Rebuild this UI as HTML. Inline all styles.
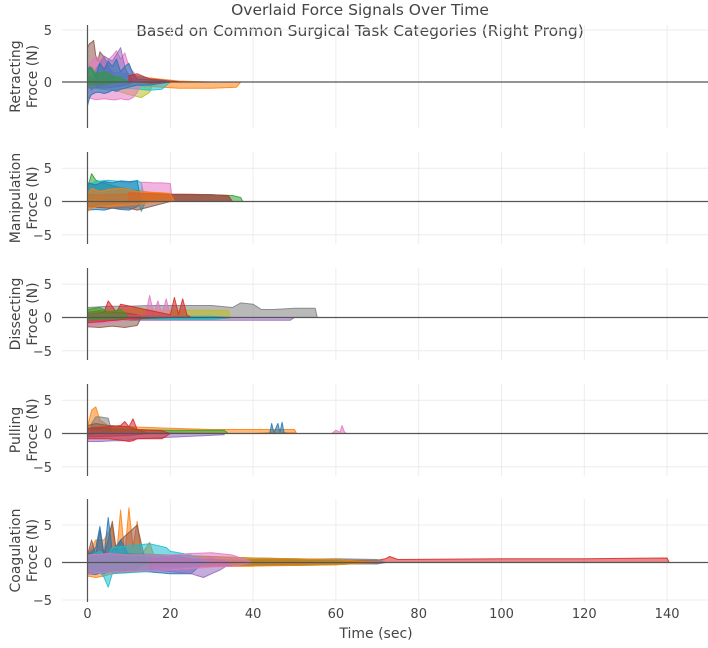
<!DOCTYPE html>
<html><head><meta charset="utf-8"><style>
body{margin:0;background:#fff;}
svg text{font-family:"DejaVu Sans","Liberation Sans",sans-serif;fill:#444;}
</style></head><body>
<svg id="chart" width="708" height="643" viewBox="0 0 708 643" xmlns="http://www.w3.org/2000/svg">
<text x="360" y="15" text-anchor="middle" font-size="15.5">Overlaid Force Signals Over Time</text>
<text x="360" y="36" text-anchor="middle" font-size="15.5">Based on Common Surgical Task Categories (Right Prong)</text>
<text x="376" y="638" text-anchor="middle" font-size="14">Time (sec)</text>
</svg>
<script>
const xTicks=[0,20,40,60,80,100,120,140];
const panelNames=["Retracting","Manipulation","Dissecting","Pulling","Coagulation"];
const yTicks=[[5,0],[5,0,-5],[5,0,-5],[5,0,-5],[5,0,-5]];
const C={blue:"#1f77b4",orange:"#ff7f0e",green:"#2ca02c",red:"#d62728",purple:"#9467bd",brown:"#8c564b",pink:"#e377c2",grey:"#7f7f7f",olive:"#bcbd22",cyan:"#17becf"};
// each band: color, times, upper, lower
const p1Bands=[
 ["orange",[0,10,22,30,36,37],[0.3,0.6,0.1,0,0,0],[-0.2,-0.3,-0.6,-0.6,-0.5,0]],
 ["olive",[0,5,10,13,15,16],[-0.1,-0.2,-0.3,-0.4,-0.6,0],[-0.6,-0.6,-1.2,-1.5,-1.0,0]],
 ["cyan",[0,5,10,15,18,20],[0.5,1,0.8,0.3,0.2,0],[-0.5,-0.8,-0.6,-0.8,-0.7,0]],
 ["brown",[0,0.5,1,1.5,2,2.5,3,4,5,6,7],[3.3,3.7,3.8,4.0,2.5,2.0,2.9,2.4,1.6,0.8,0],[0,-0.5,-0.8,-0.5,-0.5,-0.4,-0.3,-0.3,-0.2,-0.1,0]],
 ["pink",[0,2,4,6,7,8,9,10,11,12,13],[1.5,2.5,1.8,2.5,3,2.2,2.8,1.5,1,0.5,0],[-1.5,-1.7,-1.6,-1.7,-1.7,-1.6,-1.7,-1.7,-1.5,-1.0,0]],
 ["purple",[2,4,6,8,9,10,11],[1.2,2.5,2.0,3.3,1.5,0.6,0],[-0.5,-0.6,-0.5,-0.4,-0.3,-0.2,0]],
 ["blue",[0,0.5,1,2,3,4,5,6,7,8,9,10,11,12,15,20],[1,1.5,1.2,0.6,1.8,1.2,2.0,1.5,2.2,1.0,1.5,1.8,0.8,0.3,0.2,0],[-2.3,-1.5,-1.2,-1,-1,-1.1,-1,-0.8,-0.9,-0.7,-0.6,-0.5,-0.4,-0.3,-0.3,0]],
 ["green",[0,1,2,4,6,8,10],[1.2,1.4,0.8,1,0.6,0.4,0],[-0.2,-0.3,-0.2,-0.2,-0.1,0,0]],
 ["red",[10,12,15,20,23],[0.6,0.8,0.3,0.1,0],[0,0,-0.1,0,0]]
];
const p2Bands=[
 ["green",[0,1,2,4,6,10,15,20,30,35,37,37.5],[2,4.2,3.2,2.8,2.4,1.8,1.4,1.1,1.0,0.9,0.6,0],[-0.5,-0.8,-0.6,-0.5,-0.3,-0.2,0,0,0,0,0,0]],
 ["cyan",[0,2,5,8,10,12,13,14],[2.5,3,3.2,3,2.8,3.2,2.8,0],[0.5,0.5,0.3,0.3,0.2,0.3,-1.5,0]],
 ["pink",[13,14,16,18,20,20.5],[2.9,2.9,2.8,2.8,2.7,0],[0.5,0.5,0.5,0.5,0.5,0]],
 ["blue",[0,2,4,6,8,10,12,13],[2.8,2.5,3,2.8,3.1,3.0,3.1,0],[-1.3,-1.2,-1.3,-1.0,-1.2,-1.3,-0.8,0]],
 ["red",[10,15,20,25,30,34,35],[1.3,1.2,1.1,1.1,1.0,0.9,0],[0,0,0,0,0,0,0]],
 ["brown",[0,5,10,12,20,30,34,35],[1,1,1.1,1,1.0,1.0,0.8,0],[-0.8,-1.0,-1.0,-1.3,0,0,0,0]],
 ["orange",[0,1,3,5,8,10,12,15,18,20,21],[1.2,2,1.5,1.8,2,1.8,1.5,1.4,1.3,1.2,0],[-1.5,-1.0,-0.6,-0.8,-0.6,-0.5,-0.4,-0.2,0,0,0]]
];
const p3Bands=[
 ["grey",[0,5,10,15,30,35,37,40,42,45,50,55,55.5],[1.5,1.7,1.7,1.8,1.8,1.5,2.2,2.0,1.2,1.2,1.4,1.4,0],[0,0,0,0,0,0,0,0,0,0,0,0,0]],
 ["olive",[0,5,10,20,30,34,34.5],[1.2,1.1,1.2,1.1,1.1,1.1,0],[-0.2,-0.2,-0.2,-0.2,-0.1,-0.1,0]],
 ["purple",[0,10,20,30,40,49,50],[0,0,0,0,0,0,0],[-0.5,-0.4,-0.4,-0.4,-0.4,-0.4,0]],
 ["cyan",[0,10,20,30,35],[0.3,0.3,0.2,0.2,0],[-0.3,-0.3,-0.3,-0.3,0]],
 ["brown",[0,3,6,9,12,13],[0.8,1,0.8,0.7,0.4,0],[-1.4,-1.5,-1.3,-1.5,-1.2,0]],
 ["pink",[0,14,15,16,17,18,19,20,21],[0.5,0.3,3.3,0.6,2.5,0.5,2.8,0.3,0],[-1.2,0,0,0,0,0,0,0,0]],
 ["red",[0,4,5,7,8,20,21,22,23,24,25],[0.5,0.8,2.5,0.8,2,0.4,3,0.5,2.8,0.4,0],[-0.8,-0.6,-0.5,-0.4,-0.3,0,0,0,0,0,0]],
 ["green",[0,3,5,8,10],[1.2,1.5,0.8,1.2,0],[-0.4,-0.3,-0.2,-0.2,0]]
];
const p4Bands=[
 ["orange",[0,1,2,3,5,10,20,30,40,45,50,50.5],[1,3.5,4,2,1.2,1,0.8,0.6,0.6,0.6,0.6,0],[-0.2,-0.2,0,0,0,0,0,0,0,0.2,0.1,0]],
 ["grey",[1,2,3,5,6],[1.5,2.5,2.5,2.3,0],[0,0,0,0,0]],
 ["brown",[0,2,5,10,15],[1.2,1.5,1.2,1,0],[-0.5,-0.5,-0.4,-0.3,0]],
 ["green",[0,10,20,30,33,34],[0.8,0.6,0.5,0.5,0.5,0],[0,0,0,0,0,0]],
 ["purple",[0,3,6,9,12,33],[0.3,0.3,0.2,0.2,0.1,0],[-1.2,-1.2,-1.1,-1.1,-0.8,-0.2]],
 ["red",[0,5,8,9,10,11,12,18,20],[0.8,1,1.2,1.8,1,2.2,0.6,0.4,0],[-0.8,-0.8,-1.0,-1.1,-1.2,-1.1,-0.8,-0.8,0]],
 ["blue",[40,44,44.5,45,46,46.5,47,47.5,48],[0,0,1.5,0.1,1.5,0.2,1.7,0.1,0],[0,0,0,0,0,0,0,0,0]],
 ["pink",[59,60,61,61.5,62,62.5],[0,0.5,0.2,1.2,0.3,0],[0,0,0,0,0,0]]
];
const p5Bands=[
 ["red",[0,10,20,40,60,70,72,73,75,100,120,140,140.5],[1,0.8,0.5,0.3,0.3,0.3,0.5,0.8,0.4,0.5,0.5,0.6,0],[-1.3,-1.3,-0.5,-0.3,-0.2,-0.1,0,0,0,0,0,0,0]],
 ["grey",[35,40,50,60,70,72],[0.3,0.4,0.4,0.5,0.4,0],[-0.2,-0.2,-0.2,-0.2,-0.2,0]],
 ["green",[0,10,20,30,40,50,60,70],[1.2,1.2,1,0.8,0.6,0.5,0.4,0],[-0.6,-0.5,-0.4,-0.5,-0.4,-0.4,-0.3,0]],
 ["orange",[0,2,4,6,7,8,9,10,11,12,13,15,16,20,40,60,70],[1,3,3,5,1,7,1,7.3,2,5.5,1,2.7,1,0.8,0.6,0.4,0],[-1.8,-2,-1.8,-1.5,-1.4,-1.3,-1.4,-1.3,-1.2,-1.2,-1,-0.9,-0.8,-0.6,-0.5,-0.3,0]],
 ["brown",[0,1,2,3,4,5,6,7,8,10,12,14],[1,3,1,4.3,1,3,5.5,1.5,3,4,5,0],[-1.5,-1.4,-1.3,-1.4,-1.3,-1.2,-1.2,-1.1,-1,-1,-0.8,0]],
 ["blue",[0,2,3,4,5,6,8,10,20,25,28],[1,2,4.8,1,6,1.5,3,1,1,0.5,0],[-1.5,-1.6,-1.4,-1.5,-1.3,-1.2,-1.2,-1.0,-1.5,-1.5,0]],
 ["cyan",[0,3,4,5,6,15,19,20,25,30],[0.8,1.5,1,1,2,2.5,2,1.5,1,0],[-1.2,-1.3,-2,-3.3,-1.5,-1.2,-1,-0.8,-0.6,0]],
 ["purple",[15,20,25,28,30,32,35],[0.5,0.6,0.5,0.4,0.5,0.3,0],[-1,-1.2,-1.5,-2.0,-1.5,-1,0]],
 ["pink",[0,5,10,15,20,25,30,35,40],[1,1.2,1,1,1,1.2,1.3,1,0],[-1.5,-1.3,-1.2,-1.1,-1,-0.8,-0.6,-0.5,0]]
];
const panels=[
 {name:panelNames[0],bands:p1Bands,top:25,bot:128,ymin:-4.42,ymax:5.48,ticks:yTicks[0]},
 {name:panelNames[1],bands:p2Bands,top:152,bot:244,ymin:-6.39,ymax:7.44,ticks:yTicks[1]},
 {name:panelNames[2],bands:p3Bands,top:268,bot:360,ymin:-6.39,ymax:7.44,ticks:yTicks[2]},
 {name:panelNames[3],bands:p4Bands,top:384,bot:476,ymin:-6.39,ymax:7.44,ticks:yTicks[3]},
 {name:panelNames[4],bands:p5Bands,top:499,bot:602,ymin:-5.27,ymax:8.47,ticks:yTicks[4]}
];
const NS="http://www.w3.org/2000/svg";
const svg=document.getElementById('chart');
const xL=62,xR=708;
function xs(t){return 87.5+t*4.14;}
function mk(tag,at){const e=document.createElementNS(NS,tag);for(const k in at)e.setAttribute(k,at[k]);return e;}
panels.forEach((p,pi)=>{
 const ys=v=>p.bot-(v-p.ymin)/(p.ymax-p.ymin)*(p.bot-p.top);
 const g=mk('g',{});
 
 
 svg.appendChild(g);
 xTicks.forEach(t=>{const l=mk('line',{x1:xs(t),x2:xs(t),y1:p.top,y2:p.bot,stroke:'#ececec','stroke-width':1});
  
  
  g.appendChild(l);});
 p.ticks.forEach(v=>{
  if(v!==0){const l=mk('line',{x1:xL,x2:xR,y1:ys(v),y2:ys(v),stroke:'#ececec','stroke-width':1});
   
   
   g.appendChild(l);}
  const tx=mk('text',{x:52,y:ys(v)+5,'text-anchor':'end','font-size':13});
  tx.textContent=v<0?'\u2212'+Math.abs(v):String(v);
  
  
  g.appendChild(tx);
 });
 p.bands.forEach(b=>{
  const [col,t,hi,lo]=b;
  let d='';
  t.forEach((tt,i)=>{d+=(i?'L':'M')+xs(tt).toFixed(1)+','+ys(hi[i]).toFixed(1);});
  for(let i=t.length-1;i>=0;i--)d+='L'+xs(t[i]).toFixed(1)+','+ys(lo[i]).toFixed(1);
  d+='Z';
  const path=mk('path',{d:d,fill:C[col],'fill-opacity':0.55,stroke:C[col],'stroke-opacity':0.85,'stroke-width':1,'stroke-linejoin':'round'});
  
  
  g.appendChild(path);
 });
 const z=mk('line',{x1:xL,x2:xR,y1:ys(0),y2:ys(0),stroke:'#555','stroke-width':1.2});
 
 
 g.appendChild(z);
 const ax=mk('line',{x1:xs(0),x2:xs(0),y1:p.top,y2:p.bot,stroke:'#555','stroke-width':1.2});
 
 
 g.appendChild(ax);
 const cy=(p.top+p.bot)/2;
 const lab=mk('text',{transform:`translate(20,${cy}) rotate(-90)`,'text-anchor':'middle','font-size':14});
 const s1=mk('tspan',{x:0,dy:0});s1.textContent=p.name;
 const s2=mk('tspan',{x:0,dy:17});s2.textContent='Froce (N)';
 lab.appendChild(s1);lab.appendChild(s2);
 
 
 g.appendChild(lab);
});
xTicks.forEach(t=>{const tx=mk('text',{x:xs(t),y:618,'text-anchor':'middle','font-size':13});
 tx.textContent=String(t);
 
 
 svg.appendChild(tx);});
</script>
</body></html>
